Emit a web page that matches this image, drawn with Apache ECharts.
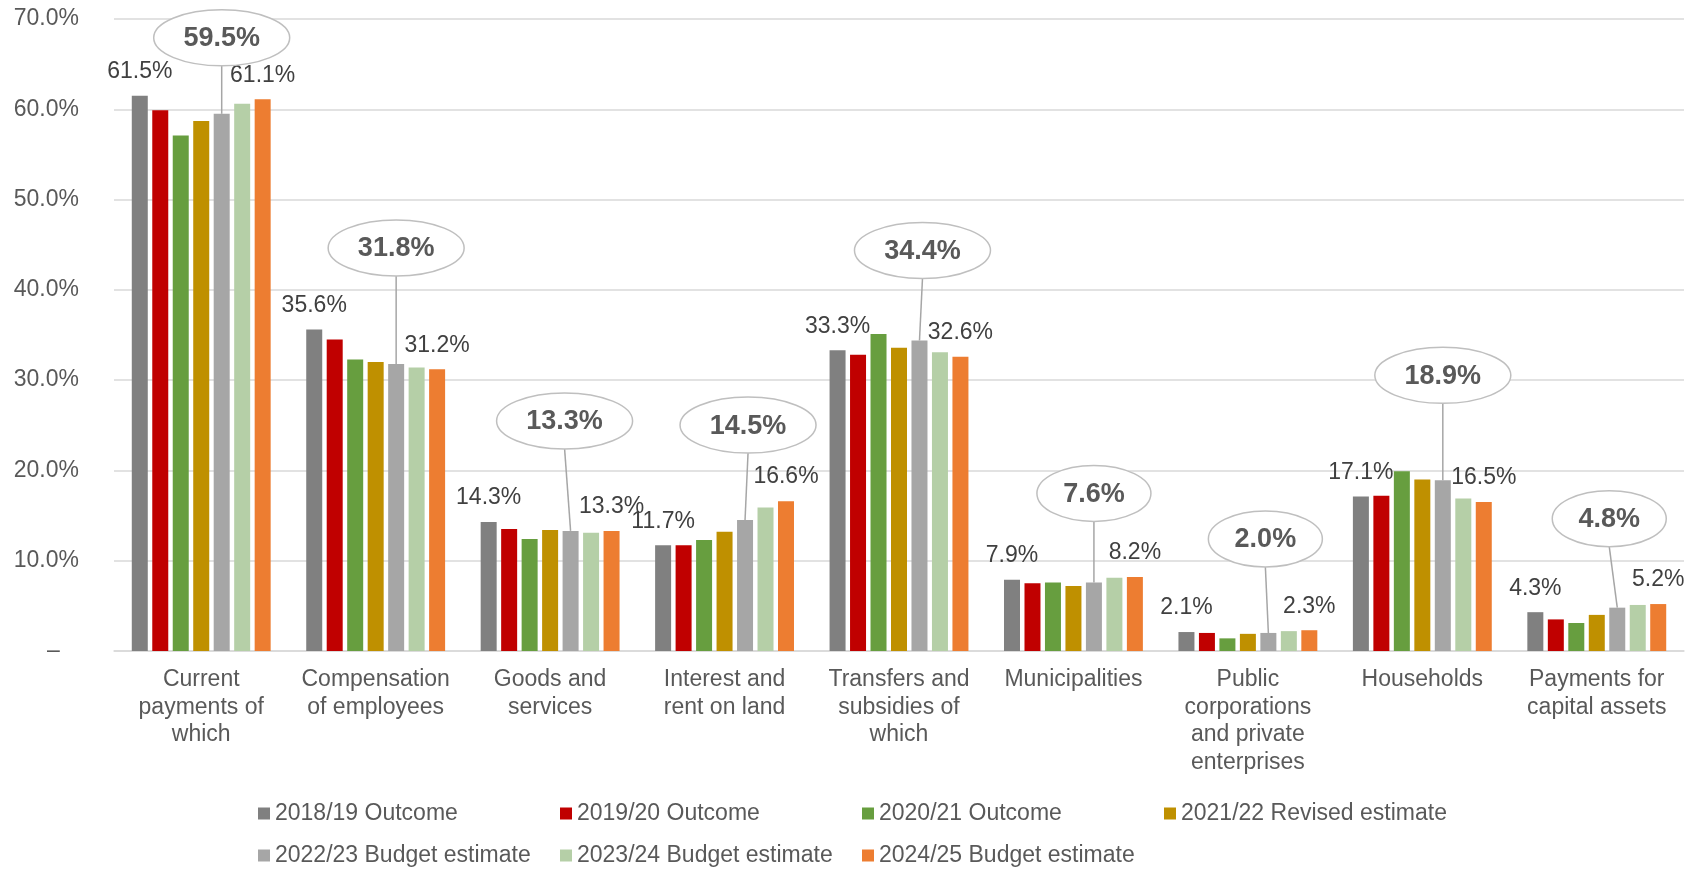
<!DOCTYPE html>
<html>
<head>
<meta charset="utf-8">
<script src="https://cdn.jsdelivr.net/npm/echarts@6/dist/echarts.min.js"></script>
<style>
  html, body { margin: 0; padding: 0; background: #ffffff; }
  #chart { width: 1698px; height: 869px; }
</style>
</head>
<body>
<div id="chart"></div>
<script>
// ---------- data ----------
const categories = [
  'Current\npayments of\nwhich',
  'Compensation\nof employees',
  'Goods and\nservices',
  'Interest and\nrent on land',
  'Transfers and\nsubsidies of\nwhich',
  'Municipalities',
  'Public\ncorporations\nand private\nenterprises',
  'Households',
  'Payments for\ncapital assets'
];
const seriesNames = [
  '2018/19 Outcome',
  '2019/20 Outcome',
  '2020/21 Outcome',
  '2021/22 Revised estimate',
  '2022/23 Budget estimate',
  '2023/24 Budget estimate',
  '2024/25 Budget estimate'
];
const v2018 = [61.5, 35.6, 14.3, 11.7, 33.3, 7.9, 2.1, 17.1, 4.3];
const v2019 = [59.9, 34.5, 13.5, 11.7, 32.8, 7.5, 2.0, 17.2, 3.5];
const v2020 = [57.1, 32.3, 12.4, 12.3, 35.1, 7.6, 1.4, 19.9, 3.1];
const v2021 = [58.7, 32.0, 13.4, 13.2, 33.6, 7.2, 1.9, 19.0, 4.0];
const v2022 = [59.5, 31.8, 13.3, 14.5, 34.4, 7.6, 2.0, 18.9, 4.8];
const v2023 = [60.6, 31.4, 13.1, 15.9, 33.1, 8.1, 2.2, 16.9, 5.1];
const v2024 = [61.1, 31.2, 13.3, 16.6, 32.6, 8.2, 2.3, 16.5, 5.2];
const yTicks = [0, 10, 20, 30, 40, 50, 60, 70];

// ---------- layout / style ----------
const FONT = '"Liberation Sans", Arial, sans-serif';
const colors = ['#808080', '#c00000', '#679e3f', '#bf9000', '#a6a6a6', '#b5cfa7', '#ed7d31'];
const BAR_W = 16;
const BAR_GAP = 0.28;
const CALLOUT_SERIES = 4;               // index of 2022/23 series
const CALLOUT_LIFT = [76, 116, 110, 95, 90, 89, 94, 105, 89];   // px above bar top
const CALLOUT_DX   = [0, 0, -6, 3, 3, 0, -3, 0, -8];           // px shift of ellipse

const allValues = [v2018, v2019, v2020, v2021, v2022, v2023, v2024];

const chart = echarts.init(document.getElementById('chart'), null, { renderer: 'canvas' });

const labelCfg = {
  show: true,
  position: 'top',
  distance: 13,
  fontFamily: FONT,
  fontSize: 23,
  lineHeight: 22,
  color: '#404040',
  formatter: p => p.value.toFixed(1) + '%'
};

const barSeries = seriesNames.map((name, k) => ({
  name: name,
  type: 'bar',
  data: allValues[k],
  barWidth: BAR_W,
  barGap: (BAR_GAP * 100) + '%',
  itemStyle: { color: colors[k] },
  label: (k === 0 || k === 6) ? labelCfg : { show: false },
  emphasis: { disabled: true },
  z: 2
}));

const calloutSeries = {
  type: 'custom',
  name: 'callout',
  data: v2022.map((v, i) => [i, v]),
  encode: { x: 0, y: 1 },
  clip: false,
  z: 5,
  silent: true,
  renderItem: function (params, api) {
    const i = api.value(0);
    const v = api.value(1);
    const pt = api.coord([i, v]);
    const pitch = BAR_W * (1 + BAR_GAP);
    const bx = pt[0] + (CALLOUT_SERIES - 3) * pitch;
    const by = pt[1];
    const cx = bx + CALLOUT_DX[i];
    const cy = by - CALLOUT_LIFT[i];
    const txt = v.toFixed(1) + '%';
    const rx = txt.length >= 5 ? 68 : 57;
    const ry = 28;
    return {
      type: 'group',
      children: [
        { type: 'line', shape: { x1: cx, y1: cy + ry, x2: bx, y2: by },
          style: { stroke: '#a6a6a6', lineWidth: 1.5 } },
        { type: 'ellipse', shape: { cx: cx, cy: cy, rx: rx, ry: ry },
          style: { fill: '#ffffff', stroke: '#bfbfbf', lineWidth: 1.5 } },
        { type: 'text', x: cx, y: cy + 1,
          style: { text: txt, fill: '#595959', font: 'bold 27px ' + FONT,
                   align: 'center', verticalAlign: 'middle' } }
      ]
    };
  }
};

const option = {
  animation: false,
  backgroundColor: '#ffffff',
  grid: { left: 114, right: 14, top: 19, bottom: 218, containLabel: false },
  legend: {
    data: seriesNames,
    left: 258,
    top: 801,
    width: 1200,
    padding: 0,
    itemWidth: 12,
    itemHeight: 12,
    itemGap: 17,
    icon: 'rect',
    selectedMode: false,
    textStyle: { fontFamily: FONT, fontSize: 23, lineHeight: 25, color: '#595959', width: 268 }
  },
  xAxis: {
    type: 'category',
    data: categories,
    axisLine: { show: true, lineStyle: { color: '#d9d9d9', width: 1.5 } },
    axisTick: { show: false },
    axisLabel: {
      interval: 0,
      margin: 15,
      fontFamily: FONT,
      fontSize: 23,
      lineHeight: 27.5,
      color: '#595959',
      align: 'center'
    },
    splitLine: { show: false }
  },
  yAxis: {
    type: 'value',
    min: yTicks[0],
    max: yTicks[yTicks.length - 1],
    interval: 10,
    axisLine: { show: false },
    axisTick: { show: false },
    axisLabel: {
      margin: 35,
      fontFamily: FONT,
      fontSize: 23,
      color: '#595959',
      formatter: v => v === 0 ? '\u2013   ' : v.toFixed(1) + '%'
    },
    splitLine: { show: true, lineStyle: { color: '#d9d9d9', width: 1.5 } }
  },
  series: barSeries.concat([calloutSeries])
};

chart.setOption(option);
</script>
</body>
</html>
